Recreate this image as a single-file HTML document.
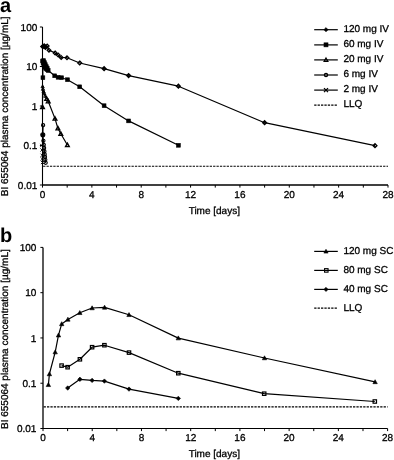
<!DOCTYPE html><html><head><meta charset="utf-8"><style>html,body{margin:0;padding:0;background:#fff;}svg{display:block;will-change:transform;}text{font-family:"Liberation Sans",sans-serif;fill:#000;text-rendering:geometricPrecision;stroke:#000;stroke-width:0.3px;}</style></head><body>
<svg width="394" height="460" viewBox="0 0 394 460">
<rect width="394" height="460" fill="#fff"/>
<text x="0" y="11.6" font-size="20" text-anchor="start" font-weight="bold" style="stroke:none">a</text>
<text transform="translate(8.1,196.2) rotate(-90)" font-size="10">BI 655064 plasma concentration [µg/mL]</text>
<line x1="42.5" y1="27.0" x2="42.5" y2="185.0" stroke="#000" stroke-width="1.1"/>
<line x1="42.5" y1="185.0" x2="388.0" y2="185.0" stroke="#000" stroke-width="1.4"/>
<line x1="39.9" y1="27.00" x2="42.5" y2="27.00" stroke="#000" stroke-width="1"/>
<text x="37.3" y="30.60" font-size="10" text-anchor="end" >100</text>
<line x1="39.9" y1="66.50" x2="42.5" y2="66.50" stroke="#000" stroke-width="1"/>
<text x="37.3" y="70.10" font-size="10" text-anchor="end" >10</text>
<line x1="39.9" y1="106.00" x2="42.5" y2="106.00" stroke="#000" stroke-width="1"/>
<text x="37.3" y="109.60" font-size="10" text-anchor="end" >1</text>
<line x1="39.9" y1="145.50" x2="42.5" y2="145.50" stroke="#000" stroke-width="1"/>
<text x="37.3" y="149.10" font-size="10" text-anchor="end" >0.1</text>
<line x1="39.9" y1="185.00" x2="42.5" y2="185.00" stroke="#000" stroke-width="1"/>
<text x="37.3" y="188.60" font-size="10" text-anchor="end" >0.01</text>
<line x1="42.50" y1="185.0" x2="42.50" y2="187.6" stroke="#000" stroke-width="1"/>
<text x="42.50" y="197.60" font-size="10" text-anchor="middle" >0</text>
<line x1="67.18" y1="185.0" x2="67.18" y2="187.6" stroke="#000" stroke-width="1"/>
<line x1="91.86" y1="185.0" x2="91.86" y2="187.6" stroke="#000" stroke-width="1"/>
<text x="91.86" y="197.60" font-size="10" text-anchor="middle" >4</text>
<line x1="116.54" y1="185.0" x2="116.54" y2="187.6" stroke="#000" stroke-width="1"/>
<line x1="141.21" y1="185.0" x2="141.21" y2="187.6" stroke="#000" stroke-width="1"/>
<text x="141.21" y="197.60" font-size="10" text-anchor="middle" >8</text>
<line x1="165.89" y1="185.0" x2="165.89" y2="187.6" stroke="#000" stroke-width="1"/>
<line x1="190.57" y1="185.0" x2="190.57" y2="187.6" stroke="#000" stroke-width="1"/>
<text x="190.57" y="197.60" font-size="10" text-anchor="middle" >12</text>
<line x1="215.25" y1="185.0" x2="215.25" y2="187.6" stroke="#000" stroke-width="1"/>
<line x1="239.93" y1="185.0" x2="239.93" y2="187.6" stroke="#000" stroke-width="1"/>
<text x="239.93" y="197.60" font-size="10" text-anchor="middle" >16</text>
<line x1="264.61" y1="185.0" x2="264.61" y2="187.6" stroke="#000" stroke-width="1"/>
<line x1="289.29" y1="185.0" x2="289.29" y2="187.6" stroke="#000" stroke-width="1"/>
<text x="289.29" y="197.60" font-size="10" text-anchor="middle" >20</text>
<line x1="313.96" y1="185.0" x2="313.96" y2="187.6" stroke="#000" stroke-width="1"/>
<line x1="338.64" y1="185.0" x2="338.64" y2="187.6" stroke="#000" stroke-width="1"/>
<text x="338.64" y="197.60" font-size="10" text-anchor="middle" >24</text>
<line x1="363.32" y1="185.0" x2="363.32" y2="187.6" stroke="#000" stroke-width="1"/>
<line x1="388.00" y1="185.0" x2="388.00" y2="187.6" stroke="#000" stroke-width="1"/>
<text x="388.00" y="197.60" font-size="10" text-anchor="middle" >28</text>
<text x="214.3" y="213.90" font-size="10" text-anchor="middle" >Time [days]</text>
<polyline points="43.1,166.2 388.0,166.2" fill="none" stroke="#000" stroke-width="1.1" stroke-linejoin="round" stroke-dasharray="2.3 1.1"/>
<polyline points="42.8,46.6 44.2,46.0 45.4,47.2 47.2,46.0 49.0,50.2 55.1,52.9 58.2,55.1 61.2,57.5 67.0,57.7 79.7,63.0 104.1,68.7 128.6,75.6 178.4,86.2 264.6,122.7 375.0,145.7" fill="none" stroke="#000" stroke-width="1.2" stroke-linejoin="round"/>
<polyline points="42.9,77.7 42.6,61.0 43.1,63.0 43.8,65.0 44.7,67.2 45.8,68.6 47.0,69.6 48.2,70.5 54.7,75.8 58.1,77.3 61.6,77.7 67.5,79.7 79.7,86.8 104.1,105.7 128.6,120.9 178.4,145.3" fill="none" stroke="#000" stroke-width="1.2" stroke-linejoin="round"/>
<polyline points="42.5,107.0 42.6,86.5 43.0,89.0 43.6,91.5 44.3,93.5 45.3,96.0 46.7,98.8 48.2,101.3 55.0,118.6 57.9,128.3 60.8,133.8 67.4,145.0" fill="none" stroke="#000" stroke-width="1.2" stroke-linejoin="round"/>
<polyline points="43.1,125.2 42.8,134.7 43.4,140.8 43.8,144.8 44.1,148.0 44.4,151.2 44.7,154.2 45.0,157.0 45.3,159.8 45.7,162.8" fill="none" stroke="#000" stroke-width="1.2" stroke-linejoin="round"/>
<path d="M42.80,44.50L44.90,46.60L42.80,48.70L40.70,46.60Z" fill="#000" stroke="#000" stroke-width="1.2"/>
<path d="M44.20,43.90L46.30,46.00L44.20,48.10L42.10,46.00Z" fill="#000" stroke="#000" stroke-width="1.2"/>
<path d="M45.40,45.10L47.50,47.20L45.40,49.30L43.30,47.20Z" fill="#000" stroke="#000" stroke-width="1.2"/>
<path d="M47.20,44.10L49.10,46.00L47.20,47.90L45.30,46.00Z" fill="none" stroke="#000" stroke-width="1.2"/>
<path d="M49.00,48.30L50.90,50.20L49.00,52.10L47.10,50.20Z" fill="none" stroke="#000" stroke-width="1.2"/>
<path d="M55.10,51.00L57.00,52.90L55.10,54.80L53.20,52.90Z" fill="none" stroke="#000" stroke-width="1.2"/>
<path d="M58.20,53.20L60.10,55.10L58.20,57.00L56.30,55.10Z" fill="none" stroke="#000" stroke-width="1.2"/>
<path d="M61.20,55.60L63.10,57.50L61.20,59.40L59.30,57.50Z" fill="none" stroke="#000" stroke-width="1.2"/>
<path d="M67.00,55.80L68.90,57.70L67.00,59.60L65.10,57.70Z" fill="none" stroke="#000" stroke-width="1.2"/>
<path d="M79.70,61.10L81.60,63.00L79.70,64.90L77.80,63.00Z" fill="none" stroke="#000" stroke-width="1.35"/>
<path d="M104.10,66.80L106.00,68.70L104.10,70.60L102.20,68.70Z" fill="none" stroke="#000" stroke-width="1.35"/>
<path d="M128.60,73.70L130.50,75.60L128.60,77.50L126.70,75.60Z" fill="none" stroke="#000" stroke-width="1.35"/>
<path d="M178.40,84.30L180.30,86.20L178.40,88.10L176.50,86.20Z" fill="none" stroke="#000" stroke-width="1.35"/>
<path d="M264.60,120.80L266.50,122.70L264.60,124.60L262.70,122.70Z" fill="none" stroke="#000" stroke-width="1.35"/>
<path d="M375.00,143.80L376.90,145.70L375.00,147.60L373.10,145.70Z" fill="none" stroke="#000" stroke-width="1.35"/>
<rect x="41.00" y="75.80" width="3.80" height="3.80" fill="#000" stroke="#000" stroke-width="0.6"/>
<rect x="40.70" y="59.10" width="3.80" height="3.80" fill="#000" stroke="#000" stroke-width="0.6"/>
<rect x="41.20" y="61.10" width="3.80" height="3.80" fill="#000" stroke="#000" stroke-width="0.6"/>
<rect x="41.90" y="63.10" width="3.80" height="3.80" fill="#000" stroke="#000" stroke-width="0.6"/>
<rect x="42.80" y="65.30" width="3.80" height="3.80" fill="#000" stroke="#000" stroke-width="0.6"/>
<rect x="43.90" y="66.70" width="3.80" height="3.80" fill="#000" stroke="#000" stroke-width="0.6"/>
<rect x="45.10" y="67.70" width="3.80" height="3.80" fill="#000" stroke="#000" stroke-width="0.6"/>
<rect x="46.30" y="68.60" width="3.80" height="3.80" fill="#000" stroke="#000" stroke-width="0.6"/>
<rect x="52.80" y="73.90" width="3.80" height="3.80" fill="#000" stroke="#000" stroke-width="0.6"/>
<rect x="56.20" y="75.40" width="3.80" height="3.80" fill="#000" stroke="#000" stroke-width="0.6"/>
<rect x="59.70" y="75.80" width="3.80" height="3.80" fill="#000" stroke="#000" stroke-width="0.6"/>
<rect x="65.60" y="77.80" width="3.80" height="3.80" fill="#000" stroke="#000" stroke-width="0.6"/>
<rect x="77.80" y="84.90" width="3.80" height="3.80" fill="#000" stroke="#000" stroke-width="0.6"/>
<rect x="102.20" y="103.80" width="3.80" height="3.80" fill="#000" stroke="#000" stroke-width="0.6"/>
<rect x="126.70" y="119.00" width="3.80" height="3.80" fill="#000" stroke="#000" stroke-width="0.6"/>
<rect x="176.50" y="143.40" width="3.80" height="3.80" fill="#000" stroke="#000" stroke-width="0.6"/>
<rect x="41.70" y="58.70" width="3.80" height="3.80" fill="#000" stroke="#000" stroke-width="0.6"/>
<rect x="42.50" y="60.70" width="3.80" height="3.80" fill="#000" stroke="#000" stroke-width="0.6"/>
<rect x="43.40" y="62.70" width="3.80" height="3.80" fill="#000" stroke="#000" stroke-width="0.6"/>
<rect x="44.40" y="64.70" width="3.80" height="3.80" fill="#000" stroke="#000" stroke-width="0.6"/>
<rect x="45.30" y="66.30" width="3.80" height="3.80" fill="#000" stroke="#000" stroke-width="0.6"/>
<path d="M42.50,105.10L44.40,108.52L40.60,108.52Z" fill="none" stroke="#000" stroke-width="1.3" stroke-linejoin="miter"/>
<path d="M42.60,84.90L44.20,87.78L41.00,87.78Z" fill="none" stroke="#000" stroke-width="1.0" stroke-linejoin="miter"/>
<path d="M43.00,87.40L44.60,90.28L41.40,90.28Z" fill="none" stroke="#000" stroke-width="1.0" stroke-linejoin="miter"/>
<path d="M43.60,89.90L45.20,92.78L42.00,92.78Z" fill="none" stroke="#000" stroke-width="1.0" stroke-linejoin="miter"/>
<path d="M44.30,91.90L45.90,94.78L42.70,94.78Z" fill="none" stroke="#000" stroke-width="1.0" stroke-linejoin="miter"/>
<path d="M45.30,94.40L46.90,97.28L43.70,97.28Z" fill="none" stroke="#000" stroke-width="1.0" stroke-linejoin="miter"/>
<path d="M46.70,96.90L48.60,100.32L44.80,100.32Z" fill="none" stroke="#000" stroke-width="1.3" stroke-linejoin="miter"/>
<path d="M48.20,99.40L50.10,102.82L46.30,102.82Z" fill="none" stroke="#000" stroke-width="1.3" stroke-linejoin="miter"/>
<path d="M55.00,116.70L56.90,120.12L53.10,120.12Z" fill="none" stroke="#000" stroke-width="1.3" stroke-linejoin="miter"/>
<path d="M57.90,126.40L59.80,129.82L56.00,129.82Z" fill="none" stroke="#000" stroke-width="1.3" stroke-linejoin="miter"/>
<path d="M60.80,131.90L62.70,135.32L58.90,135.32Z" fill="none" stroke="#000" stroke-width="1.3" stroke-linejoin="miter"/>
<path d="M67.40,143.10L69.30,146.52L65.50,146.52Z" fill="none" stroke="#000" stroke-width="1.3" stroke-linejoin="miter"/>
<circle cx="43.10" cy="125.20" r="1.60" fill="none" stroke="#000" stroke-width="1.1"/>
<circle cx="42.80" cy="134.70" r="2.00" fill="#000" stroke="#000" stroke-width="1.1"/>
<circle cx="43.40" cy="140.80" r="1.60" fill="none" stroke="#000" stroke-width="1.1"/>
<circle cx="43.80" cy="144.80" r="1.60" fill="none" stroke="#000" stroke-width="1.1"/>
<circle cx="44.10" cy="148.00" r="1.60" fill="none" stroke="#000" stroke-width="1.1"/>
<circle cx="44.40" cy="151.20" r="1.60" fill="none" stroke="#000" stroke-width="1.1"/>
<circle cx="44.70" cy="154.20" r="1.60" fill="none" stroke="#000" stroke-width="1.1"/>
<circle cx="45.00" cy="157.00" r="1.60" fill="none" stroke="#000" stroke-width="1.1"/>
<circle cx="45.30" cy="159.80" r="1.60" fill="none" stroke="#000" stroke-width="1.1"/>
<circle cx="45.70" cy="162.80" r="1.60" fill="none" stroke="#000" stroke-width="1.1"/>
<path d="M40.20,143.90L43.40,147.10M43.40,143.90L40.20,147.10" stroke="#000" stroke-width="0.9"/>
<path d="M40.40,148.40L43.60,151.60M43.60,148.40L40.40,151.60" stroke="#000" stroke-width="0.9"/>
<path d="M40.60,153.70L43.80,156.90M43.80,153.70L40.60,156.90" stroke="#000" stroke-width="0.9"/>
<path d="M40.70,157.40L43.90,160.60M43.90,157.40L40.70,160.60" stroke="#000" stroke-width="0.9"/>
<path d="M40.90,160.90L44.10,164.10M44.10,160.90L40.90,164.10" stroke="#000" stroke-width="0.9"/>
<polyline points="314.2,29.7 337.8,29.7" fill="none" stroke="#000" stroke-width="1.2" stroke-linejoin="round"/>
<path d="M326.00,27.60L328.10,29.70L326.00,31.80L323.90,29.70Z" fill="#000" stroke="#000" stroke-width="0.6"/>
<text x="343.4" y="31.90" font-size="10" text-anchor="start" >120 mg IV</text>
<polyline points="314.2,44.9 337.8,44.9" fill="none" stroke="#000" stroke-width="1.2" stroke-linejoin="round"/>
<rect x="324.00" y="42.85" width="4.00" height="4.00" fill="#000" stroke="#000" stroke-width="0.6"/>
<text x="343.4" y="47.05" font-size="10" text-anchor="start" >60 mg IV</text>
<polyline points="314.2,59.9 337.8,59.9" fill="none" stroke="#000" stroke-width="1.2" stroke-linejoin="round"/>
<path d="M326.00,58.00L327.90,61.42L324.10,61.42Z" fill="none" stroke="#000" stroke-width="1.2" stroke-linejoin="miter"/>
<text x="343.4" y="62.10" font-size="10" text-anchor="start" >20 mg IV</text>
<polyline points="314.2,75.0 337.8,75.0" fill="none" stroke="#000" stroke-width="1.2" stroke-linejoin="round"/>
<circle cx="326.00" cy="75.00" r="1.60" fill="none" stroke="#000" stroke-width="1.2"/>
<text x="343.4" y="77.20" font-size="10" text-anchor="start" >6 mg IV</text>
<polyline points="314.2,90.1 337.8,90.1" fill="none" stroke="#000" stroke-width="1.2" stroke-linejoin="round"/>
<path d="M324.00,88.10L328.00,92.10M328.00,88.10L324.00,92.10" stroke="#000" stroke-width="1.3"/>
<text x="343.4" y="92.30" font-size="10" text-anchor="start" >2 mg IV</text>
<polyline points="314.2,105.1 337.8,105.1" fill="none" stroke="#000" stroke-width="1.1" stroke-linejoin="round" stroke-dasharray="2.3 1.1"/>
<text x="343.4" y="107.30" font-size="10" text-anchor="start" >LLQ</text>
<text x="0" y="241.6" font-size="20" text-anchor="start" font-weight="bold" style="stroke:none">b</text>
<text transform="translate(8.1,429.0) rotate(-90)" font-size="10">BI 655064 plasma concentration [µg/mL]</text>
<line x1="43.0" y1="247.4" x2="43.0" y2="428.5" stroke="#000" stroke-width="1.3"/>
<line x1="43.0" y1="428.5" x2="387.6" y2="428.5" stroke="#000" stroke-width="1.1"/>
<line x1="40.4" y1="247.40" x2="43.0" y2="247.40" stroke="#000" stroke-width="1"/>
<text x="36.4" y="251.00" font-size="10" text-anchor="end" >100</text>
<line x1="40.4" y1="292.68" x2="43.0" y2="292.68" stroke="#000" stroke-width="1"/>
<text x="36.4" y="296.28" font-size="10" text-anchor="end" >10</text>
<line x1="40.4" y1="337.95" x2="43.0" y2="337.95" stroke="#000" stroke-width="1"/>
<text x="36.4" y="341.55" font-size="10" text-anchor="end" >1</text>
<line x1="40.4" y1="383.23" x2="43.0" y2="383.23" stroke="#000" stroke-width="1"/>
<text x="36.4" y="386.83" font-size="10" text-anchor="end" >0.1</text>
<line x1="40.4" y1="428.50" x2="43.0" y2="428.50" stroke="#000" stroke-width="1"/>
<text x="36.4" y="432.10" font-size="10" text-anchor="end" >0.01</text>
<line x1="43.00" y1="428.5" x2="43.00" y2="431.1" stroke="#000" stroke-width="1"/>
<text x="43.00" y="440.90" font-size="10" text-anchor="middle" >0</text>
<line x1="67.61" y1="428.5" x2="67.61" y2="431.1" stroke="#000" stroke-width="1"/>
<line x1="92.23" y1="428.5" x2="92.23" y2="431.1" stroke="#000" stroke-width="1"/>
<text x="92.23" y="440.90" font-size="10" text-anchor="middle" >4</text>
<line x1="116.84" y1="428.5" x2="116.84" y2="431.1" stroke="#000" stroke-width="1"/>
<line x1="141.46" y1="428.5" x2="141.46" y2="431.1" stroke="#000" stroke-width="1"/>
<text x="141.46" y="440.90" font-size="10" text-anchor="middle" >8</text>
<line x1="166.07" y1="428.5" x2="166.07" y2="431.1" stroke="#000" stroke-width="1"/>
<line x1="190.69" y1="428.5" x2="190.69" y2="431.1" stroke="#000" stroke-width="1"/>
<text x="190.69" y="440.90" font-size="10" text-anchor="middle" >12</text>
<line x1="215.30" y1="428.5" x2="215.30" y2="431.1" stroke="#000" stroke-width="1"/>
<line x1="239.91" y1="428.5" x2="239.91" y2="431.1" stroke="#000" stroke-width="1"/>
<text x="239.91" y="440.90" font-size="10" text-anchor="middle" >16</text>
<line x1="264.53" y1="428.5" x2="264.53" y2="431.1" stroke="#000" stroke-width="1"/>
<line x1="289.14" y1="428.5" x2="289.14" y2="431.1" stroke="#000" stroke-width="1"/>
<text x="289.14" y="440.90" font-size="10" text-anchor="middle" >20</text>
<line x1="313.76" y1="428.5" x2="313.76" y2="431.1" stroke="#000" stroke-width="1"/>
<line x1="338.37" y1="428.5" x2="338.37" y2="431.1" stroke="#000" stroke-width="1"/>
<text x="338.37" y="440.90" font-size="10" text-anchor="middle" >24</text>
<line x1="362.99" y1="428.5" x2="362.99" y2="431.1" stroke="#000" stroke-width="1"/>
<line x1="387.60" y1="428.5" x2="387.60" y2="431.1" stroke="#000" stroke-width="1"/>
<text x="387.60" y="440.90" font-size="10" text-anchor="middle" >28</text>
<text x="214.3" y="456.80" font-size="10" text-anchor="middle" >Time [days]</text>
<polyline points="43.6,406.9 387.6,406.9" fill="none" stroke="#000" stroke-width="1.1" stroke-linejoin="round" stroke-dasharray="2.3 1.1"/>
<polyline points="48.4,384.8 49.4,374.0 55.2,352.1 58.5,335.2 61.7,323.9 67.9,319.4 79.8,312.8 92.1,308.0 104.6,307.4 129.0,314.8 178.3,338.1 264.5,358.0 375.1,381.9" fill="none" stroke="#000" stroke-width="1.2" stroke-linejoin="round"/>
<polyline points="61.6,365.6 67.6,367.2 79.9,359.3 92.1,347.2 104.4,345.2 129.0,352.6 178.3,373.2 264.2,393.7 374.8,401.5" fill="none" stroke="#000" stroke-width="1.2" stroke-linejoin="round"/>
<polyline points="67.7,388.0 79.9,379.3 92.1,380.4 104.4,381.1 129.0,389.1 178.3,398.4" fill="none" stroke="#000" stroke-width="1.2" stroke-linejoin="round"/>
<path d="M48.40,382.60L50.60,386.56L46.20,386.56Z" fill="#000" stroke="#000" stroke-width="0.6" stroke-linejoin="miter"/>
<path d="M49.40,371.80L51.60,375.76L47.20,375.76Z" fill="#000" stroke="#000" stroke-width="0.6" stroke-linejoin="miter"/>
<path d="M55.20,349.90L57.40,353.86L53.00,353.86Z" fill="#000" stroke="#000" stroke-width="0.6" stroke-linejoin="miter"/>
<path d="M58.50,333.00L60.70,336.96L56.30,336.96Z" fill="#000" stroke="#000" stroke-width="0.6" stroke-linejoin="miter"/>
<path d="M61.70,321.70L63.90,325.66L59.50,325.66Z" fill="#000" stroke="#000" stroke-width="0.6" stroke-linejoin="miter"/>
<path d="M67.90,317.20L70.10,321.16L65.70,321.16Z" fill="#000" stroke="#000" stroke-width="0.6" stroke-linejoin="miter"/>
<path d="M79.80,310.60L82.00,314.56L77.60,314.56Z" fill="#000" stroke="#000" stroke-width="0.6" stroke-linejoin="miter"/>
<path d="M92.10,305.80L94.30,309.76L89.90,309.76Z" fill="#000" stroke="#000" stroke-width="0.6" stroke-linejoin="miter"/>
<path d="M104.60,305.20L106.80,309.16L102.40,309.16Z" fill="#000" stroke="#000" stroke-width="0.6" stroke-linejoin="miter"/>
<path d="M129.00,312.60L131.20,316.56L126.80,316.56Z" fill="#000" stroke="#000" stroke-width="0.6" stroke-linejoin="miter"/>
<path d="M178.30,335.90L180.50,339.86L176.10,339.86Z" fill="#000" stroke="#000" stroke-width="0.6" stroke-linejoin="miter"/>
<path d="M264.50,355.80L266.70,359.76L262.30,359.76Z" fill="#000" stroke="#000" stroke-width="0.6" stroke-linejoin="miter"/>
<path d="M375.10,379.70L377.30,383.66L372.90,383.66Z" fill="#000" stroke="#000" stroke-width="0.6" stroke-linejoin="miter"/>
<rect x="59.90" y="363.90" width="3.40" height="3.40" fill="none" stroke="#000" stroke-width="1.2"/>
<rect x="65.90" y="365.50" width="3.40" height="3.40" fill="none" stroke="#000" stroke-width="1.2"/>
<rect x="78.20" y="357.60" width="3.40" height="3.40" fill="none" stroke="#000" stroke-width="1.2"/>
<rect x="90.40" y="345.50" width="3.40" height="3.40" fill="none" stroke="#000" stroke-width="1.2"/>
<rect x="102.70" y="343.50" width="3.40" height="3.40" fill="none" stroke="#000" stroke-width="1.2"/>
<rect x="127.30" y="350.90" width="3.40" height="3.40" fill="none" stroke="#000" stroke-width="1.2"/>
<rect x="176.60" y="371.50" width="3.40" height="3.40" fill="none" stroke="#000" stroke-width="1.2"/>
<rect x="262.50" y="392.00" width="3.40" height="3.40" fill="none" stroke="#000" stroke-width="1.2"/>
<rect x="373.10" y="399.80" width="3.40" height="3.40" fill="none" stroke="#000" stroke-width="1.2"/>
<path d="M67.70,385.80L69.90,388.00L67.70,390.20L65.50,388.00Z" fill="#000" stroke="#000" stroke-width="0.6"/>
<path d="M79.90,377.10L82.10,379.30L79.90,381.50L77.70,379.30Z" fill="#000" stroke="#000" stroke-width="0.6"/>
<path d="M92.10,378.20L94.30,380.40L92.10,382.60L89.90,380.40Z" fill="#000" stroke="#000" stroke-width="0.6"/>
<path d="M104.40,378.90L106.60,381.10L104.40,383.30L102.20,381.10Z" fill="#000" stroke="#000" stroke-width="0.6"/>
<path d="M129.00,386.90L131.20,389.10L129.00,391.30L126.80,389.10Z" fill="#000" stroke="#000" stroke-width="0.6"/>
<path d="M178.30,396.20L180.50,398.40L178.30,400.60L176.10,398.40Z" fill="#000" stroke="#000" stroke-width="0.6"/>
<polyline points="314.2,251.4 337.8,251.4" fill="none" stroke="#000" stroke-width="1.2" stroke-linejoin="round"/>
<path d="M326.00,249.30L328.10,253.08L323.90,253.08Z" fill="#000" stroke="#000" stroke-width="0.6" stroke-linejoin="miter"/>
<text x="343.4" y="254.40" font-size="10" text-anchor="start" >120 mg SC</text>
<polyline points="314.2,270.4 337.8,270.4" fill="none" stroke="#000" stroke-width="1.2" stroke-linejoin="round"/>
<rect x="324.55" y="268.65" width="3.50" height="3.50" fill="none" stroke="#000" stroke-width="1.1"/>
<text x="343.4" y="273.40" font-size="10" text-anchor="start" >80 mg SC</text>
<polyline points="314.2,289.4 337.8,289.4" fill="none" stroke="#000" stroke-width="1.2" stroke-linejoin="round"/>
<path d="M326.00,287.30L328.10,289.40L326.00,291.50L323.90,289.40Z" fill="#000" stroke="#000" stroke-width="0.6"/>
<text x="343.4" y="292.40" font-size="10" text-anchor="start" >40 mg SC</text>
<polyline points="314.2,308.1 337.8,308.1" fill="none" stroke="#000" stroke-width="1.1" stroke-linejoin="round" stroke-dasharray="2.3 1.1"/>
<text x="343.4" y="311.10" font-size="10" text-anchor="start" >LLQ</text>
</svg></body></html>
